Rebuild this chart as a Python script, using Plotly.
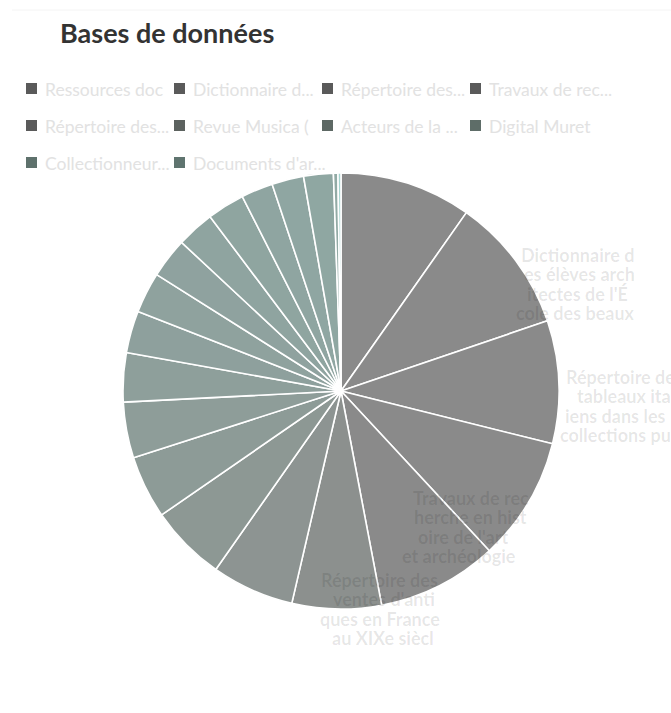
import plotly.graph_objects as go

# ---- data -------------------------------------------------------------
slice_labels = [
    "Ressources documentaires",
    "Dictionnaire des élèves architectes de l'École des beaux-arts",
    "Répertoire des tableaux italiens dans les collections publiques",
    "Travaux de recherche en histoire de l'art et archéologie",
    "Répertoire des ventes d'antiques en France au XIXe siècle",
    "Revue Musica (",
    "Acteurs de la ...",
    "Digital Muret",
    "Collectionneurs",
    "Documents d'archives",
    "Base 11", "Base 12", "Base 13", "Base 14", "Base 15",
    "Base 16", "Base 17", "Base 18", "Base 19", "Base 20", "Base 21",
]
slice_values = [35.1, 36.1, 32.8, 33.1, 32.1, 23.8, 22.0, 20.3, 16.8, 14.9,
                13.1, 11.2, 10.9, 10.7, 10.1, 10.0, 8.5, 8.5, 7.9, 1.2, 0.8]
slice_colors = ["#5a5a5a", "#5a5a5a", "#5a5a5a", "#5a5a5a", "#5a5a5a",
                "#5c625f", "#5d6864", "#5e6d68", "#5e716c", "#5f746f",
                "#5f7772", "#5f7974", "#607b76", "#607c77", "#607e78",
                "#607f79", "#61807a", "#61817b", "#61827c", "#64877f", "#7fc1ba"]

legend_names = ["Ressources doc", "Dictionnaire d...", "Répertoire des...", "Travaux de rec...",
                "Répertoire des...", "Revue Musica (", "Acteurs de la ...", "Digital Muret",
                "Collectionneur...", "Documents d'ar..."]
legend_rows = [0, 0, 0, 0, 1, 1, 1, 1, 2, 2]
legend_cols = [0, 1, 2, 3, 0, 1, 2, 3, 0, 1]

shown_label_lines = [
    ["Dictionnaire d", "es élèves arch", "itectes de l'É", "cole des beaux"],
    ["Répertoire des", "tableaux itali", "iens dans les", "collections pu"],
    ["Travaux de rec", "herche en hist", "oire de l'art", "et archéologie"],
    ["Répertoire des", "ventes d'anti", "ques en France", "au XIXe siècl"],
]

# ---- figure -----------------------------------------------------------
W, H = 671, 713
cx, cy, R = 341, 391, 218

fig = go.Figure()
fig.add_trace(go.Pie(
    labels=slice_labels,
    values=slice_values,
    sort=False,
    direction="clockwise",
    rotation=0,
    marker=dict(colors=slice_colors, line=dict(color="white", width=1.6)),
    opacity=0.7,
    textinfo="none",
    hoverinfo="label+percent",
    showlegend=False,
    domain=dict(x=[(cx - R) / W, (cx + R) / W], y=[(H - cy - R) / H, (H - cy + R) / H]),
))

row_y = [89, 126, 163]
col_w = 148
entry_w = col_w - 35

# legend entries (text from the legend; the square swatches are drawn as shapes
# so that the gap between swatch and text matches the original legend)
legend_keys = ["legend", "legend2", "legend3"]
for i, name in enumerate(legend_names):
    last_in_row = (i == len(legend_names) - 1) or (legend_rows[i + 1] != legend_rows[i])
    fig.add_trace(go.Scatter(
        x=[None], y=[None], mode="markers", name=name,
        marker=dict(symbol="square", size=2, color="rgba(0,0,0,0)",
                    line=dict(width=0, color="rgba(0,0,0,0)")),
        legend=legend_keys[legend_rows[i]], showlegend=True,
        legendwidth=entry_w + 60 if last_in_row else None,
    ))

leg_common = dict(orientation="h", xanchor="left", yanchor="middle",
                  x=15 / W, entrywidth=entry_w, entrywidthmode="pixels",
                  indentation=-10,
                  bgcolor="rgba(0,0,0,0)", borderwidth=0,
                  font=dict(family="Lato", size=17.5, color="#e2e2e2"),
                  itemclick=False, itemdoubleclick=False)

shapes = [dict(type="line", xref="paper", yref="paper", x0=12 / W, x1=1,
               y0=1 - 10 / H, y1=1 - 10 / H, line=dict(color="#f4f4f4", width=1))]
sw_x0, sw_size = 26, 11
for i in range(len(legend_names)):
    x0 = sw_x0 + col_w * legend_cols[i]
    yc = row_y[legend_rows[i]] - 0.5
    shapes.append(dict(type="rect", xref="paper", yref="paper",
                       x0=x0 / W, x1=(x0 + sw_size) / W,
                       y0=1 - (yc + sw_size / 2) / H, y1=1 - (yc - sw_size / 2) / H,
                       fillcolor=slice_colors[i], line=dict(width=0)))

# label text blocks: per-line centre x and first line y, in px from the top-left
label_line_x = [[577, 579, 577, 575], [624, 628, 615, 615], [471, 471, 463, 459], [379, 384, 380, 383]]
label_first_y = [255, 377, 498, 580]
line_step = 19.4
annotations = []
for xs, ay, lines in zip(label_line_x, label_first_y, shown_label_lines):
    for j, line in enumerate(lines):
        annotations.append(dict(
            x=xs[j] / W, y=1 - (ay + j * line_step) / H, xref="paper", yref="paper",
            text="<b>" + line + "</b>", showarrow=False,
            xanchor="center", yanchor="middle",
            font=dict(family="Lato", size=18, color="rgba(0,0,0,0.1)"),
        ))

fig.update_layout(
    width=W, height=H,
    margin=dict(l=0, r=0, t=0, b=0, autoexpand=False),
    paper_bgcolor="white", plot_bgcolor="white",
    title=dict(text="<b>Bases de données</b>", x=60 / W, xanchor="left",
               y=1 - 34 / H, yanchor="middle", xref="container", yref="container",
               font=dict(family="Lato", size=27, color="#333333")),
    xaxis=dict(visible=False), yaxis=dict(visible=False),
    legend=dict(leg_common, y=1 - row_y[0] / H),
    legend2=dict(leg_common, y=1 - row_y[1] / H),
    legend3=dict(leg_common, y=1 - row_y[2] / H),
    annotations=annotations,
    shapes=shapes,
    showlegend=True,
)

fig.write_html("out.html", config={"displayModeBar": False},
               post_script="document.body.style.margin='0';")
